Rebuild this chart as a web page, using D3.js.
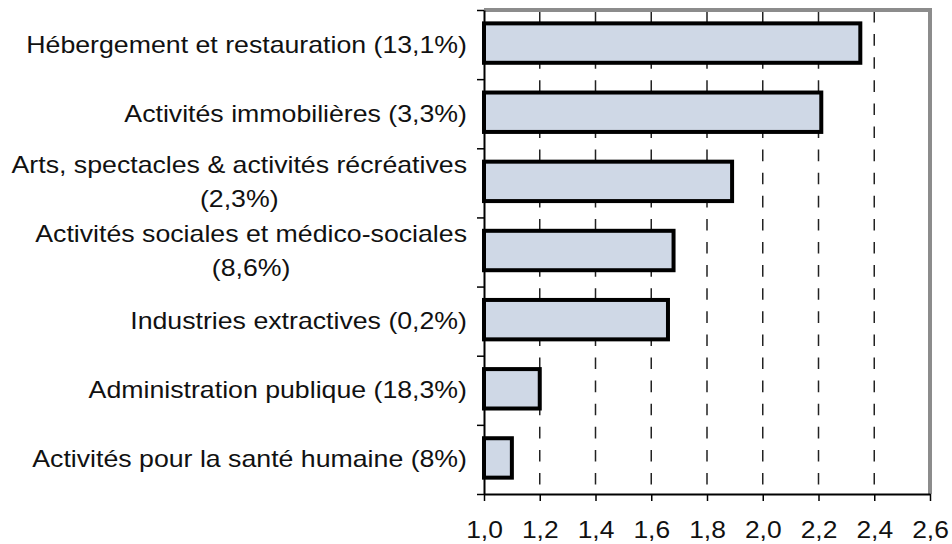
<!DOCTYPE html>
<html>
<head>
<meta charset="utf-8">
<script src="https://cdn.jsdelivr.net/npm/d3@7"></script>
<style>
  html, body { margin: 0; padding: 0; background: #ffffff; }
  svg { display: block; }
  text { font-family: "Liberation Sans", Arial, sans-serif; fill: #111; }
</style>
</head>
<body>
<svg id="chart" width="952" height="544"></svg>
<script>
// ---- Data ----
const categories = [
  "Hébergement et restauration (13,1%)",
  "Activités immobilières (3,3%)",
  "Arts, spectacles & activités récréatives\n(2,3%)",
  "Activités sociales et médico-sociales\n(8,6%)",
  "Industries extractives (0,2%)",
  "Administration publique (18,3%)",
  "Activités pour la santé humaine (8%)"
];
const values = [2.35, 2.21, 1.89, 1.68, 1.66, 1.20, 1.10];
const xTickValues = [1.0, 1.2, 1.4, 1.6, 1.8, 2.0, 2.2, 2.4, 2.6];
const xTickLabels = ["1,0", "1,2", "1,4", "1,6", "1,8", "2,0", "2,2", "2,4", "2,6"];

// ---- Layout ----
const plotLeft = 484, plotRight = 930, plotTop = 10, plotBottom = 494;
const fontSize = 24, sx = 1.113;

const svg = d3.select("#chart");

const x = d3.scaleLinear().domain([1.0, 2.6]).range([plotLeft, plotRight]);
const y = d3.scaleBand().domain(categories).range([plotTop, plotBottom])
  .paddingInner(0.43).paddingOuter(0.215).align(0.45);
const boundary = d3.scaleLinear().domain([0, categories.length]).range([plotTop, plotBottom]);

// Gridlines (dashed)
svg.append("g").selectAll("line")
  .data(xTickValues.filter(v => v > 1.0 && v < 2.6))
  .join("line")
  .attr("x1", d => x(d)).attr("x2", d => x(d))
  .attr("y1", plotTop + 1).attr("y2", plotBottom)
  .attr("stroke", "#222").attr("stroke-width", 1.5)
  .attr("stroke-dasharray", "11.6,11.5");

// Bars
svg.append("g").selectAll("rect")
  .data(categories)
  .join("rect")
  .attr("x", x(1.0))
  .attr("y", d => y(d))
  .attr("width", (d, i) => x(values[i]) - x(1.0))
  .attr("height", y.bandwidth())
  .attr("fill", "#cfd8e6")
  .attr("stroke", "#000")
  .attr("stroke-width", 4);

// Top and right border (grey)
svg.append("path")
  .attr("d", `M${plotLeft},${plotTop}H${plotRight}V${plotBottom}`)
  .attr("fill", "none")
  .attr("stroke", "#8c8c8c")
  .attr("stroke-width", 4);

// Left axis (category boundaries)
const yAxis = svg.append("g")
  .attr("transform", `translate(${plotLeft},0)`)
  .call(d3.axisLeft(boundary).tickValues(d3.range(categories.length + 1)).tickSize(7).tickSizeOuter(0).tickFormat(""));
yAxis.select(".domain").attr("stroke", "#000").attr("stroke-width", 2);
yAxis.selectAll(".tick line").attr("stroke", "#000").attr("stroke-width", 1.5);

// Bottom axis
const xAxis = svg.append("g")
  .attr("transform", `translate(0,${plotBottom})`)
  .call(d3.axisBottom(x).tickValues(xTickValues).tickSize(7).tickSizeOuter(0)
    .tickFormat((d, i) => xTickLabels[i]));
xAxis.select(".domain").attr("stroke", "#000").attr("stroke-width", 2);
xAxis.selectAll(".tick line").attr("stroke", "#000").attr("stroke-width", 1.5);
xAxis.selectAll(".tick text")
  .attr("y", 44).attr("dy", 0)
  .attr("font-size", fontSize)
  .attr("font-family", "'Liberation Sans', Arial, sans-serif")
  .attr("fill", "#111")
  .attr("transform", `scale(1.1,1)`);

// Category labels
const labelX = 467;
const lineGap = 34;
categories.forEach((c, i) => {
  const lines = c.split("\n");
  const cy = boundary(i + 0.5);
  const g = svg.append("g").attr("transform", `translate(${labelX},${cy}) scale(${sx},1)`);
  if (lines.length === 1) {
    g.append("text").attr("text-anchor", "end").attr("y", 8)
      .attr("font-size", fontSize).text(lines[0]);
  } else {
    const t1 = g.append("text").attr("text-anchor", "end").attr("y", 8 - lineGap / 2 - 1)
      .attr("font-size", fontSize).text(lines[0]);
    const w1 = t1.node().getComputedTextLength();
    g.append("text").attr("text-anchor", "middle").attr("x", -w1 / 2).attr("y", 8 + lineGap / 2 - 1)
      .attr("font-size", fontSize).text(lines[1]);
  }
});
</script>
</body>
</html>
